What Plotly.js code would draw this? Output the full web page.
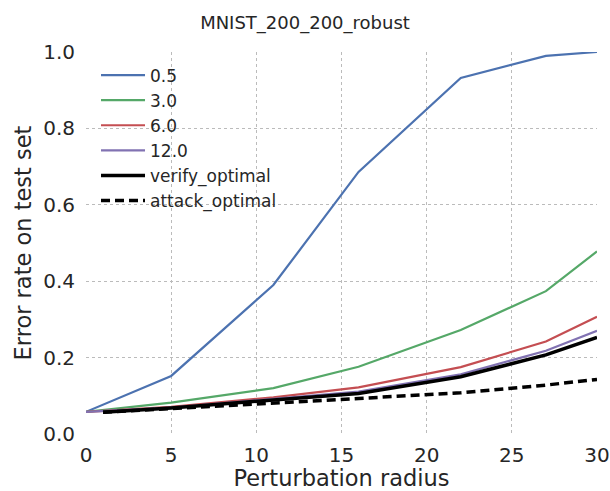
<!DOCTYPE html>
<html>
<head>
<meta charset="utf-8">
<script src="https://cdn.plot.ly/plotly-3.0.1.min.js"></script>
<style>html,body{margin:0;padding:0;background:#fff;}#chart{width:610px;height:491px;}</style>
</head>
<body>
<div id="chart"></div>
<script>
const xColored = [0, 5, 11, 16, 22, 27, 30];
const xOptimal = [1, 5, 11, 16, 22, 27, 30];
const err_05 = [0.058, 0.152, 0.390, 0.686, 0.932, 0.990, 1.000];
const err_3 = [0.058, 0.082, 0.120, 0.176, 0.272, 0.374, 0.478];
const err_6 = [0.058, 0.071, 0.096, 0.122, 0.175, 0.242, 0.307];
const err_12 = [0.058, 0.069, 0.092, 0.111, 0.156, 0.218, 0.270];
const verifyOptimal = [0.057, 0.068, 0.089, 0.106, 0.150, 0.207, 0.253];
const attackOptimal = [0.057, 0.066, 0.080, 0.093, 0.108, 0.128, 0.143];
const xTicks = [0, 5, 10, 15, 20, 25, 30];
const yTicks = [0, 0.2, 0.4, 0.6, 0.8, 1.0];
const yTickText = ['0.0', '0.2', '0.4', '0.6', '0.8', '1.0'];

const traces = [
  {x: xColored, y: err_05, name: '0.5', mode: 'lines', line: {color: '#4C72B0', width: 2.2}},
  {x: xColored, y: err_3, name: '3.0', mode: 'lines', line: {color: '#55A868', width: 2.2}},
  {x: xColored, y: err_6, name: '6.0', mode: 'lines', line: {color: '#C44E52', width: 2.2}},
  {x: xColored, y: err_12, name: '12.0', mode: 'lines', line: {color: '#8172B2', width: 2.2}},
  {x: xOptimal, y: verifyOptimal, name: 'verify_optimal', mode: 'lines', line: {color: '#000000', width: 3.5}},
  {x: xOptimal, y: attackOptimal, name: 'attack_optimal', mode: 'lines', line: {color: '#000000', width: 3.5, dash: '9px,5px'}}
];

const txt = '#262626';
const fam = 'DejaVu Sans, sans-serif';
const layout = {
  width: 610, height: 491,
  margin: {l: 86, r: 13, t: 52, b: 57},
  paper_bgcolor: '#ffffff', plot_bgcolor: '#ffffff',
  font: {family: fam, color: txt, size: 18},
  title: {text: 'MNIST_200_200_robust', font: {size: 18, color: txt, family: fam}, x: 0.5, xanchor: 'center', y: 0.953, yanchor: 'middle'},
  xaxis: {
    range: [0, 30], tickvals: xTicks,
    showgrid: true, gridcolor: '#bbbbbb', griddash: 'dot', gridwidth: 1,
    zeroline: false, showline: false, ticks: '', ticklabelstandoff: 7,
    tickfont: {size: 20, color: txt, family: fam},
    title: {text: 'Perturbation radius', font: {size: 22.5, color: txt, family: fam}, standoff: 1}
  },
  yaxis: {
    range: [0, 1], tickvals: yTicks, ticktext: yTickText,
    showgrid: true, gridcolor: '#bbbbbb', griddash: 'dot', gridwidth: 1,
    zeroline: false, showline: false, ticks: '', ticklabelstandoff: 10,
    tickfont: {size: 20, color: txt, family: fam},
    title: {text: 'Error rate on test set', font: {size: 22.5, color: txt, family: fam}, standoff: 5}
  },
  legend: {
    x: 0.0196, y: 0.9856, xanchor: 'left', yanchor: 'top',
    bgcolor: 'rgba(0,0,0,0)', borderwidth: 0,
    font: {size: 17, color: txt, family: fam},
    itemwidth: 44,
    tracegroupgap: 0
  },
  showlegend: true
};

Plotly.newPlot('chart', traces, layout, {displayModeBar: false, staticPlot: true});
</script>
</body>
</html>
